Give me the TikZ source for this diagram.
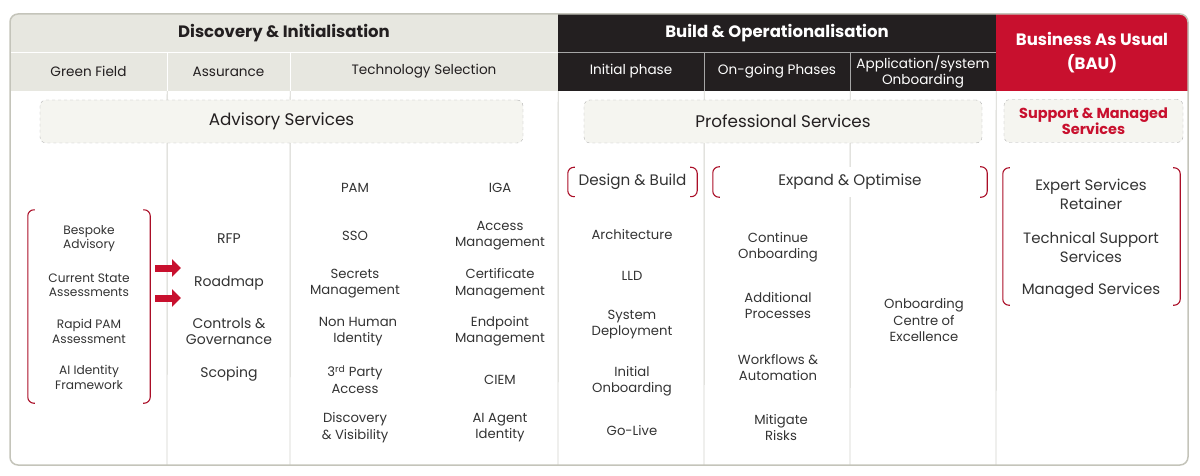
\documentclass[tikz,border=0pt]{standalone}
\usepackage{fontspec}
\setmainfont{Poppins}
\usetikzlibrary{arrows.meta}
\definecolor{headgrey}{HTML}{E7E7E0}
\definecolor{headdark}{HTML}{231F20}
\definecolor{bauRed}{HTML}{C8102E}
\definecolor{boxfill}{HTML}{F5F5F0}
\definecolor{rulegrey}{HTML}{D2D2CC}
\definecolor{framegrey}{HTML}{C4C4BA}
\definecolor{textgrey}{HTML}{333333}

\begin{document}
\begin{tikzpicture}[x=1pt,y=-1pt,
    item/.style={align=center, text=textgrey, yshift=-1.5pt, font=\fontsize{13.2}{16.5}\selectfont},
    gfitem/.style={item, font=\fontsize{12.2}{14.3}\selectfont},
    asitem/.style={item, font=\fontsize{14}{16.7}\selectfont},
    bauitem/.style={item, font=\fontsize{15}{18.3}\selectfont},
    headitem/.style={item, font=\fontsize{15.2}{17}\selectfont},
    phase/.style={align=center, font=\bfseries\fontsize{16.5}{24}\selectfont, minimum height=38pt, inner sep=0pt},
    stage/.style={align=center, font=\fontsize{13.6}{16}\selectfont, minimum height=39pt, inner sep=0pt},
    service/.style={draw=gray!60, dashed, fill=boxfill, rounded corners=6pt, minimum height=43pt, align=center, font=\fontsize{16.8}{17}\selectfont, text=headdark},
    bracket/.style={draw=bauRed!85!black, line width=1.1pt, rounded corners=6pt},
    divider/.style={draw=rulegrey, line width=0.9pt},
    blockarrow/.style={draw=bauRed, line width=7pt, -{Triangle[length=9pt,width=17pt]}},
]
\useasboundingbox (0,0) rectangle (1200,476);
\begin{scope}
    \clip[rounded corners=8pt] (10,14) rectangle (1188,465);
    \node[phase, fill=headgrey, text=headdark, minimum width=548pt] (disc) at (284,33) {Discovery \& Initialisation};
    \node[phase, fill=headdark, text=white, minimum width=438pt] (build) at (777,33) {Build \& Operationalisation};
    \node[phase, fill=bauRed, text=white, minimum width=192pt, minimum height=77pt] (bau) at (1092,52.5) {Business As Usual\\(BAU)};
    \node[stage, fill=headgrey, text=headdark, minimum width=157pt] (green) at (88.5,71.5) {Green Field};
    \node[stage, fill=headgrey, text=headdark, minimum width=123pt] (assur) at (228.5,71.5) {Assurance};
    \node[stage, fill=headgrey, text=headdark, minimum width=268pt] (tech) at (424,71.5) {Technology Selection};
    \node[stage, fill=headdark, text=white, minimum width=146pt] (init) at (631,71.5) {Initial phase};
    \node[stage, fill=headdark, text=white, minimum width=146pt] (ongo) at (777,71.5) {On-going Phases};
    \node[stage, fill=headdark, text=white, minimum width=146pt] (appl) at (923,71.5) {Application/system\\Onboarding};
\end{scope}
\draw[white, line width=1.2pt] (disc.south west) -- (disc.south east);
\draw[white, line width=1.2pt] (green.north east) -- (green.south east);
\draw[white, line width=1.2pt] (assur.north east) -- (assur.south east);
\draw[gray!70, line width=1pt] (build.south west) -- (build.south east);
\draw[gray!70, line width=1pt] (init.north east) -- (init.south east);
\draw[gray!70, line width=1pt] (ongo.north east) -- (ongo.south east);

\draw[divider] (green.south east) -- (167,465);
\draw[divider] (assur.south east) -- (290,465);
\draw[divider] (tech.south east) -- (558,465);
\draw[divider] (init.south east) -- (704,465);
\draw[divider] (ongo.south east) -- (850,465);
\draw[divider] (appl.south east) -- (996,465);

\node[service, minimum width=483pt] (advisory) at (281.5,121.5) {Advisory Services};
\node[service, minimum width=398pt] (professional) at (783,121.5) {Professional Services};
\node[service, minimum width=179pt, text=bauRed, font=\bfseries\fontsize{14.5}{14.5}\selectfont] (support) at (1093.5,121) {Support \& Managed\\Services};

\node[minimum width=122pt, minimum height=193pt] (gfbox) at (89,306.5) {};
\node[gfitem] (bespoke) at (89,237) {Bespoke\\Advisory};
\node[gfitem] (current) at (89,284) {Current State\\Assessments};
\node[gfitem] (rapid) at (89,330) {Rapid PAM\\Assessment};
\node[gfitem] (aiframe) at (89,376) {AI Identity\\Framework};

\node[asitem] (rfp) at (229,237) {RFP};
\node[asitem] (roadmap) at (229,282) {Roadmap};
\node[asitem] (controls) at (229,330) {Controls \&\\Governance};
\node[asitem] (scoping) at (229,373) {Scoping};

\node[item] (pam) at (355,186) {PAM};
\node[item] (sso) at (355,234) {SSO};
\node[item] (secrets) at (355,282) {Secrets\\Management};
\node[item] (nhi) at (358,330) {Non Human\\Identity};
\node[item] (third) at (355,378) {3\textsuperscript{rd} Party\\Access};
\node[item] (discovery) at (355,426) {Discovery\\\& Visibility};
\node[item] (iga) at (500,186) {IGA};
\node[item] (access) at (500,234) {Access\\Management};
\node[item] (cert) at (500,282) {Certificate\\Management};
\node[item] (endpoint) at (500,330) {Endpoint\\Management};
\node[item] (ciem) at (500,378) {CIEM};
\node[item] (aiagent) at (500,426) {AI Agent\\Identity};

\node[headitem, minimum width=129pt, minimum height=29pt] (design) at (632.5,180.5) {Design \& Build};
\node[item] (arch) at (632,233) {Architecture};
\node[item] (lld) at (632,274) {LLD};
\node[item] (deploy) at (632,323) {System\\Deployment};
\node[item] (initonb) at (632,380) {Initial\\Onboarding};
\node[item] (golive) at (632,429) {Go-Live};

\node[headitem, fill=white, minimum width=274pt, minimum height=30pt] (expand) at (850,180.5) {Expand \& Optimise};
\node[item] (contonb) at (778,246) {Continue\\Onboarding};
\node[item] (addproc) at (778,304) {Additional\\Processes};
\node[item] (workflow) at (778,366) {Workflows \&\\Automation};
\node[item] (mitigate) at (781,426) {Mitigate\\Risks};
\node[item] (coe) at (924,319) {Onboarding\\Centre of\\Excellence};

\node[minimum width=177pt, minimum height=137pt] (baubox) at (1091.5,236.5) {};
\node[bauitem] (expert) at (1091,193) {Expert Services\\Retainer};
\node[bauitem] (techsup) at (1091,246) {Technical Support\\Services};
\node[bauitem] (managed) at (1091,289) {Managed Services};

\draw[bracket] ([xshift=7pt]gfbox.north west) -- (gfbox.north west) -- (gfbox.south west) -- ([xshift=7pt]gfbox.south west);
\draw[bracket] ([xshift=-7pt]gfbox.north east) -- (gfbox.north east) -- (gfbox.south east) -- ([xshift=-7pt]gfbox.south east);
\draw[bracket] ([xshift=7pt]design.north west) -- (design.north west) -- (design.south west) -- ([xshift=7pt]design.south west);
\draw[bracket] ([xshift=-7pt]design.north east) -- (design.north east) -- (design.south east) -- ([xshift=-7pt]design.south east);
\draw[bracket] ([xshift=7pt]expand.north west) -- (expand.north west) -- (expand.south west) -- ([xshift=7pt]expand.south west);
\draw[bracket] ([xshift=-7pt]expand.north east) -- (expand.north east) -- (expand.south east) -- ([xshift=-7pt]expand.south east);
\draw[bracket] ([xshift=7pt]baubox.north west) -- (baubox.north west) -- (baubox.south west) -- ([xshift=7pt]baubox.south west);
\draw[bracket] ([xshift=-7pt]baubox.north east) -- (baubox.north east) -- (baubox.south east) -- ([xshift=-7pt]baubox.south east);

\coordinate (arrowA) at (155,268);
\coordinate (arrowB) at (155,298);
\draw[blockarrow] (arrowA) -- ([xshift=26pt]arrowA);
\draw[blockarrow] (arrowB) -- ([xshift=26pt]arrowB);

\draw[framegrey, line width=1.5pt, rounded corners=8pt] (10,14) rectangle (1188,465);
\end{tikzpicture}
\end{document}
